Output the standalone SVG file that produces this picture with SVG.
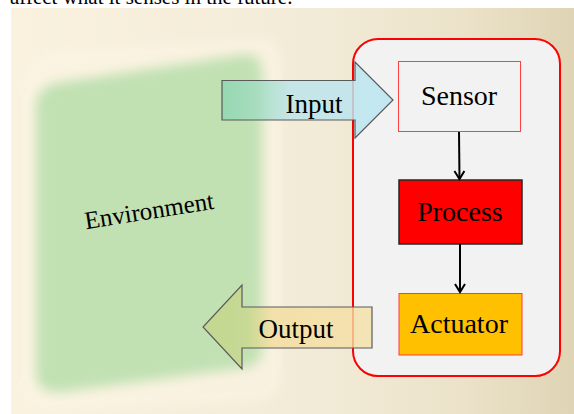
<svg xmlns="http://www.w3.org/2000/svg" width="574" height="414" viewBox="0 0 574 414">
  <style>
    .serif { font-family: "Liberation Serif", "Times New Roman", serif; fill: #000; }
    .label { font-size: 28px; text-anchor: middle; }
    .block-arrow { stroke: #5a5a5a; stroke-width: 1.2; }
    .flow { stroke: #000; stroke-width: 2; fill: none; marker-end: url(#open-head); }
  </style>
  <defs>
    <linearGradient id="panel" x1="0" y1="0" x2="1" y2="0">
      <stop offset="0" stop-color="#faf2df"/>
      <stop offset="0.55" stop-color="#f2ebd7"/>
      <stop offset="0.8" stop-color="#ebe2c9"/>
      <stop offset="1" stop-color="#dfd4b4"/>
    </linearGradient>
    <linearGradient id="input-fill" gradientUnits="userSpaceOnUse" x1="222" y1="0" x2="393" y2="0">
      <stop offset="0" stop-color="#8fd6b0"/>
      <stop offset="0.22" stop-color="#a4dcc2"/>
      <stop offset="0.4" stop-color="#bde5ea"/>
      <stop offset="1" stop-color="#bbe5f1"/>
    </linearGradient>
    <linearGradient id="output-fill" gradientUnits="userSpaceOnUse" x1="203" y1="0" x2="372" y2="0">
      <stop offset="0" stop-color="#c3d588"/>
      <stop offset="0.25" stop-color="#c8d78c"/>
      <stop offset="0.42" stop-color="#f3dc9c"/>
      <stop offset="1" stop-color="#f5e0a6"/>
    </linearGradient>
    <filter id="soft" x="-20%" y="-20%" width="140%" height="140%">
      <feGaussianBlur stdDeviation="6"/>
    </filter>
    <filter id="softer" x="-20%" y="-20%" width="140%" height="140%">
      <feGaussianBlur stdDeviation="4"/>
    </filter>
    <marker id="open-head" viewBox="0 0 12 12" refX="10" refY="6" markerWidth="12" markerHeight="12" markerUnits="userSpaceOnUse" orient="auto">
      <path d="M2,1 L10,6 L2,11" fill="none" stroke="#000" stroke-width="2"/>
    </marker>
  </defs>

  <!-- page backdrop and caption line above -->
  <rect x="0" y="0" width="574" height="414" fill="#ffffff"/>
  <text class="serif" x="10" y="4" font-size="21">affect what it senses in the future.</text>
  <rect x="11" y="8" width="563" height="406" fill="url(#panel)"/>

  <!-- environment -->
  <g id="environment">
    <path d="M22,90 Q22,55 60,50 L255,38 Q282,36 282,65 L282,375 Q282,400 255,402 L50,410 Q22,410 22,385 Z" fill="#fcf5e4" filter="url(#softer)" opacity="0.6"/>
    <path d="M36,108 Q36,85 63,82 L242,55 Q262,52 262,75 L262,348 Q262,366 242,368 L62,392 Q36,394 36,372 Z" fill="#c1e1b3" filter="url(#soft)"/>
    <text class="serif" x="150" y="219" font-size="25" text-anchor="middle" fill="#2b2b2b" transform="rotate(-9 150 216)">Environment</text>
  </g>

  <!-- system container -->
  <g id="system">
    <rect x="353" y="39" width="207" height="337" rx="25" ry="25" fill="#f2f2f2" stroke="#ff0000" stroke-width="2"/>
  </g>

  <g id="sensor">
    <rect x="398.5" y="61.5" width="122" height="70" fill="#f2f2f2" stroke="#ff4040" stroke-width="1"/>
    <text class="serif label" x="459" y="105">Sensor</text>
  </g>

  <g id="process">
    <rect x="399" y="180" width="123" height="64" fill="#ff0000" stroke="#262626" stroke-width="1.5"/>
    <text class="serif label" x="460" y="221">Process</text>
  </g>

  <g id="actuator">
    <rect x="399" y="293.5" width="123" height="61.5" fill="#ffc000" stroke="#ff3a3a" stroke-width="1"/>
    <text class="serif label" x="459" y="333">Actuator</text>
  </g>

  <g id="input">
    <path class="block-arrow" d="M222,80.5 L355,80.5 L355,62 L393,100 L355,138 L355,120 L222,120 Z" fill="url(#input-fill)" fill-opacity="0.85"/>
    <text class="serif" x="314" y="113" font-size="27" text-anchor="middle">Input</text>
  </g>

  <g id="output">
    <path class="block-arrow" d="M372,307 L242,307 L242,285 L203,327 L242,369 L242,348 L372,348 Z" fill="url(#output-fill)" fill-opacity="0.8"/>
    <text class="serif" x="296" y="338" font-size="27" text-anchor="middle">Output</text>
  </g>

  <!-- connectors -->
  <g id="connectors">
    <line class="flow" x1="459" y1="132" x2="459.5" y2="179"/>
    <line class="flow" x1="460" y1="244" x2="460" y2="292"/>
  </g>
</svg>
